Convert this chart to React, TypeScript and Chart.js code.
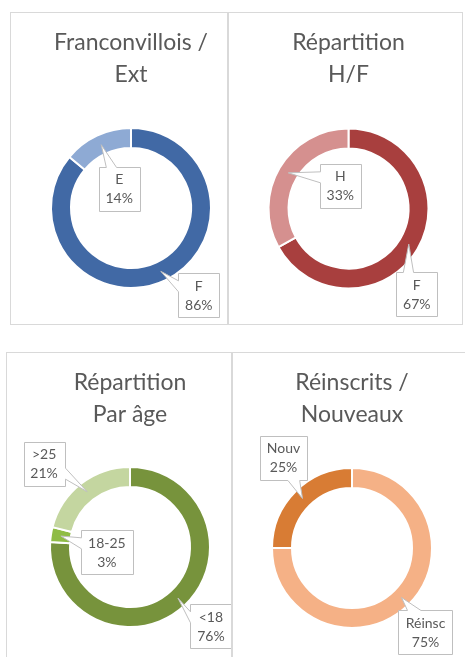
import React, { useEffect, useRef } from "react";
import { Chart, registerables } from "chart.js";

Chart.register(...registerables);

// ---- data ----
const titleA = ["Franconvillois /", "Ext"];
const labelsA = ["F", "E"];
const valuesA = [86, 14];

const titleB = ["Répartition", "H/F"];
const labelsB = ["F", "H"];
const valuesB = [67, 33];

const titleC = ["Répartition", "Par âge"];
const labelsC = ["<18", "18-25", ">25"];
const valuesC = [76, 3, 21];

const titleD = ["Réinscrits /", "Nouveaux"];
const labelsD = ["Réinsc", "Nouv"];
const valuesD = [75, 25];

// ---- styles ----
const colorsA = ["#4169a5", "#8eaad4"];
const colorsB = ["#a83f3e", "#d5908f"];
const colorsC = ["#77933c", "#8fbc45", "#c4d6a0"];
const colorsD = ["#f5b186", "#d87c34"];

const TEXT = "#595959";
const FONT = "Lato";
const R = 81;
const LH = 32;
const TITLE_SIZE = 23;

type Panel = {
  title: string[];
  labels: string[];
  values: number[];
  colors: string[];
  box: { left: number; top: number; width: number; height: number };
  center: [number, number];
  titleY: number;
  offsets: [number, number][];
};

const panels: Panel[] = [
  {
    title: titleA, labels: labelsA, values: valuesA, colors: colorsA,
    box: { left: 10, top: 12, width: 218, height: 313 },
    center: [131, 208], titleY: 43,
    offsets: [[38, 24], [18, 44]],
  },
  {
    title: titleB, labels: labelsB, values: valuesB, colors: colorsB,
    box: { left: 228, top: 12, width: 235, height: 313 },
    center: [348.5, 208.5], titleY: 43,
    offsets: [[8, 50], [52, 13]],
  },
  {
    title: titleC, labels: labelsC, values: valuesC, colors: colorsC,
    box: { left: 6, top: 352, width: 226, height: 320 },
    center: [130, 547], titleY: 383,
    offsets: [[33, 28], [46, 16], [-43, -28]],
  },
  {
    title: titleD, labels: labelsD, values: valuesD, colors: colorsD,
    box: { left: 232, top: 352, width: 240, height: 320 },
    center: [352, 548], titleY: 383,
    offsets: [[24, 35], [-19, -41]],
  },
];

function calloutPlugin(offsets: [number, number][]) {
  return {
    id: "callouts",
    afterDatasetsDraw(chart: any) {
      const ctx: CanvasRenderingContext2D = chart.ctx;
      const meta = chart.getDatasetMeta(0);
      const ds = chart.data.datasets[0];
      const total = (ds.data as number[]).reduce((a, b) => a + b, 0);
      ctx.save();
      ctx.font = `14px ${FONT}`;
      meta.data.forEach((arc: any, i: number) => {
        const tip = arc.tooltipPosition();
        const lines = [
          String(chart.data.labels[i]),
          Math.round(((ds.data[i] as number) / total) * 100) + "%",
        ];
        const tw = Math.max(...lines.map((l) => ctx.measureText(l).width));
        const w = Math.round(tw + 14);
        const h = 44;
        const cx = tip.x + offsets[i][0];
        const cy = tip.y + offsets[i][1];
        const l = Math.round(cx - w / 2) + 0.5;
        const t = Math.round(cy - h / 2) + 0.5;
        const r = l + w;
        const b = t + h;
        const dxPos = tip.x - cx;
        const dyPos = tip.y - cy;
        const dq = (dxPos * h) / w;
        const vertical = Math.abs(dyPos) - Math.abs(dq) > 0;
        const x1 = (w * (dxPos > 0 ? 7 : 2)) / 12;
        const x2 = (w * (dxPos > 0 ? 10 : 5)) / 12;
        const y1 = (h * (dyPos > 0 ? 7 : 2)) / 12;
        const y2 = (h * (dyPos > 0 ? 10 : 5)) / 12;
        ctx.beginPath();
        ctx.moveTo(l, t);
        if (vertical && dyPos < 0) {
          ctx.lineTo(l + x1, t);
          ctx.lineTo(tip.x, tip.y);
          ctx.lineTo(l + x2, t);
        }
        ctx.lineTo(r, t);
        if (!vertical && dxPos > 0) {
          ctx.lineTo(r, t + y1);
          ctx.lineTo(tip.x, tip.y);
          ctx.lineTo(r, t + y2);
        }
        ctx.lineTo(r, b);
        if (vertical && dyPos > 0) {
          ctx.lineTo(l + x2, b);
          ctx.lineTo(tip.x, tip.y);
          ctx.lineTo(l + x1, b);
        }
        ctx.lineTo(l, b);
        if (!vertical && dxPos < 0) {
          ctx.lineTo(l, t + y2);
          ctx.lineTo(tip.x, tip.y);
          ctx.lineTo(l, t + y1);
        }
        ctx.closePath();
        ctx.fillStyle = "#ffffff";
        ctx.fill();
        ctx.strokeStyle = "#bfbfbf";
        ctx.lineWidth = 1;
        ctx.stroke();
        ctx.fillStyle = TEXT;
        ctx.textAlign = "center";
        ctx.textBaseline = "middle";
        ctx.fillText(lines[0], cx, cy - 9);
        ctx.fillText(lines[1], cx, cy + 10);
      });
      ctx.restore();
    },
  };
}

function Donut({ p }: { p: Panel }) {
  const ref = useRef<HTMLCanvasElement | null>(null);
  useEffect(() => {
    if (!ref.current) return;
    const { box, center, titleY } = p;
    const cx = center[0] - box.left;
    const cy = center[1] - box.top;
    const ty = titleY - box.top;
    const titleTop = ty - LH / 2;
    const titleBottom = cy - R - titleTop - p.title.length * LH;
    const chart = new Chart(ref.current, {
      type: "doughnut",
      data: {
        labels: p.labels,
        datasets: [
          {
            data: p.values,
            backgroundColor: p.colors,
            borderColor: "#ffffff",
            borderWidth: 2,
            hoverOffset: 0,
          },
        ],
      },
      options: {
        responsive: false,
        animation: false,
        cutout: "75%",
        layout: {
          padding: {
            left: cx - R,
            right: box.width - (cx + R),
            top: 0,
            bottom: box.height - (cy + R),
          },
        },
        plugins: {
          legend: { display: false },
          tooltip: { enabled: false },
          title: {
            display: true,
            text: p.title,
            color: TEXT,
            font: { family: FONT, size: TITLE_SIZE, weight: "normal", lineHeight: LH / TITLE_SIZE },
            padding: { top: titleTop, bottom: titleBottom },
          },
        },
      } as any,
      plugins: [calloutPlugin(p.offsets)],
    });
    return () => chart.destroy();
  }, [p]);
  const { box } = p;
  return (
    <>
      <canvas
        ref={ref}
        width={box.width}
        height={box.height}
        style={{
          position: "absolute",
          left: box.left,
          top: box.top,
          width: box.width,
          height: box.height,
        }}
      />
      <div
        style={{
          position: "absolute",
          left: box.left,
          top: box.top,
          width: box.width,
          height: box.height,
          border: "1px solid #d9d9d9",
          boxSizing: "border-box",
          pointerEvents: "none",
        }}
      />
    </>
  );
}

export default function App() {
  return (
    <div
      style={{
        position: "absolute",
        left: 0,
        top: 0,
        width: 465,
        height: 657,
        overflow: "hidden",
        background: "#ffffff",
      }}
    >
      {panels.map((p, i) => (
        <Donut key={i} p={p} />
      ))}
    </div>
  );
}
